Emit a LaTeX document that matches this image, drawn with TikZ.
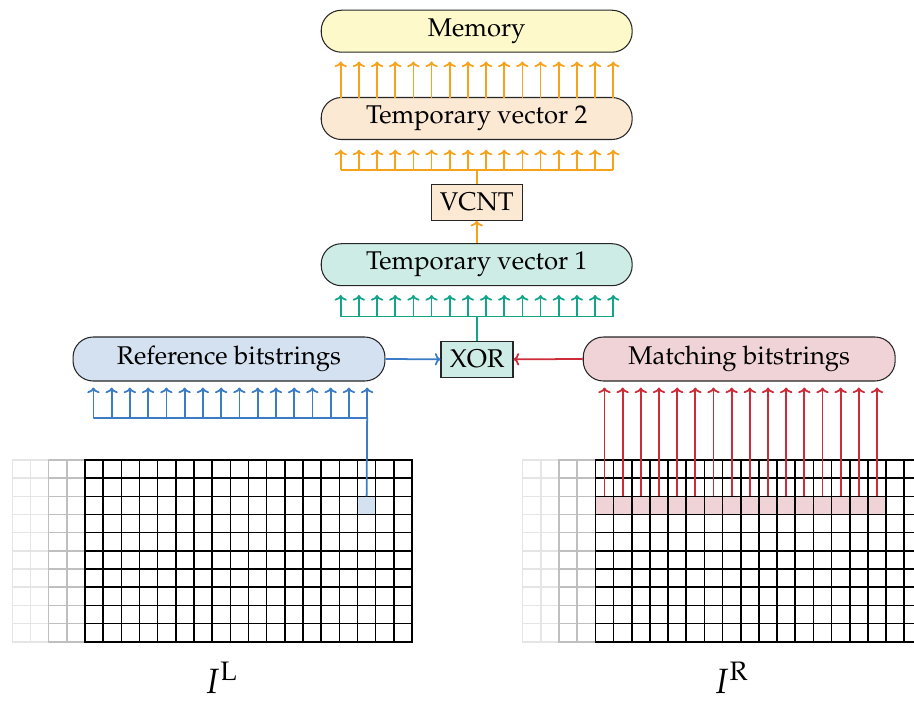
\documentclass[tikz,border=0pt]{standalone}
\usepackage[T1]{fontenc}
\usepackage{mathpazo}
\usetikzlibrary{arrows.meta}
\definecolor{cmem}{HTML}{FDF9CB}
\definecolor{ctvtwo}{HTML}{FBE9D4}
\definecolor{ctvone}{HTML}{CDECE5}
\definecolor{cref}{HTML}{D4E1F0}
\definecolor{cmat}{HTML}{F0D3D6}
\definecolor{corange}{HTML}{F7A21B}
\definecolor{cteal}{HTML}{12A58A}
\definecolor{cblue}{HTML}{3A7DC6}
\definecolor{cred}{HTML}{CC2B38}
\begin{document}
\begin{tikzpicture}[x=0.02cm,y=-0.02cm,
  boxfont/.style={font=\fontsize{14.6}{17}\selectfont},
  pill/.style={draw=black!85, line width=0.6pt, rounded corners=11.5pt,
    minimum width=6.22cm, minimum height=0.84cm, inner sep=0pt, boxfont},
  opbox/.style={draw=black!85, line width=0.6pt, minimum height=0.72cm,
    inner sep=0pt, boxfont},
  wire/.style={line width=1pt},
  arr/.style={wire, -{To[length=3.2pt,width=7pt]}},
  lbl/.style={font=\fontsize{20}{24}\selectfont, inner sep=0pt},
  faintA/.style={draw=black!10, line width=0.9pt},
  faintB/.style={draw=black!25, line width=0.9pt},
  cellline/.style={draw=black, line width=0.9pt}]
\useasboundingbox (0,0) rectangle (914,701);

% ---------- grids ----------
\begin{scope}
\clip (0,0) rectangle (914,701);
% highlights
\fill[cref] ({12.3+19*18.17},{460+2*18.17}) rectangle +(18.17,18.17);
\fill[cmat] ({522.7+4*18.17},{460+2*18.17}) rectangle +({16*18.17},18.17);
\foreach \ox in {12.3,522.7}{
  \foreach \c in {0,1}{\foreach \r in {0,...,9}{
    \draw[faintA] ({\ox+\c*18.17},{460+\r*18.17}) rectangle +(18.17,18.17);}}
  \foreach \c in {2,3}{\foreach \r in {0,...,9}{
    \draw[faintB] ({\ox+\c*18.17},{460+\r*18.17}) rectangle +(18.17,18.17);}}
  \foreach \c in {4,...,21}{\foreach \r in {0,...,9}{
    \draw[cellline] ({\ox+\c*18.17},{460+\r*18.17}) rectangle +(18.17,18.17);}}
}
\end{scope}

% ---------- boxes ----------
\node[pill, fill=cmem] (mem) at (476.7,31.2) {Memory};
\node[pill, fill=ctvtwo] (tvtwo) at (476.7,118.5) {Temporary vector 2};
\node[opbox, fill=ctvtwo, minimum width=1.82cm] (vcnt) at (476.7,202.2) {VCNT};
\node[pill, fill=ctvone] (tvone) at (476.7,264.7) {Temporary vector 1};
\node[opbox, fill=ctvone, minimum width=1.44cm] (xor) at (477,359.3) {XOR};
\node[pill, fill=cref, minimum width=6.24cm, minimum height=0.88cm] (ref) at (229,359) {Reference bitstrings};
\node[pill, fill=cmat, minimum width=6.24cm, minimum height=0.88cm] (mat) at (739.2,359) {Matching bitstrings};

% ---------- orange: TV2 -> Memory ----------
\foreach \i in {0,...,15}{
  \coordinate (oa\i) at ({340.7+18.17*\i},97.5);
  \draw[arr, corange, shorten >=5pt] (oa\i) -- (oa\i |- mem.south);
}
% ---------- orange bus: VCNT -> TV2 ----------
\foreach \i in {0,...,15}{
  \coordinate (ob\i) at ({340.7+18.17*\i},170);
  \draw[arr, corange, shorten >=5.5pt] (ob\i) -- (ob\i |- tvtwo.south);
}
\draw[wire, corange] (ob0) -- (ob15);
\draw[wire, corange] (vcnt.north) -- (vcnt.north |- ob0);
\draw[arr, corange] (tvone.north) -- (vcnt.south);

% ---------- teal bus: XOR -> TV1 ----------
\foreach \i in {0,...,15}{
  \coordinate (tb\i) at ({340.7+18.17*\i},316.5);
  \draw[arr, cteal, shorten >=5pt] (tb\i) -- (tb\i |- tvone.south);
}
\draw[wire, cteal] (tb0) -- (tb15);
\draw[wire, cteal] (xor.north) -- (xor.north |- tb0);

% ---------- inputs to XOR ----------
\draw[arr, cblue] (ref.east) -- (xor.west);
\draw[arr, cred] (mat.west) -- (xor.east);

% ---------- blue: reference cell ----------
\coordinate (lc) at ({12.3+19.5*18.17},{460+2*18.17});
\foreach \i in {0,...,15}{
  \coordinate (bb\i) at ({93.4+18.25*\i},418);
  \draw[arr, cblue, shorten >=3.4pt] (bb\i) -- (bb\i |- ref.south);
}
\draw[wire, cblue] (bb0) -- (bb15) -- (lc);

% ---------- red: matching row ----------
\foreach \i in {0,...,15}{
  \coordinate (rc\i) at ({522.7+(4.5+\i)*18.17},{460+2*18.17});
  \draw[arr, cred, shorten >=3.4pt] (rc\i) -- (rc\i |- mat.south);
}

% ---------- labels ----------
\node[lbl] (il) at (221,678) {$I^{\mathrm{L}}$};
\node[lbl] (ir) at (731,678) {$I^{\mathrm{R}}$};
\end{tikzpicture}
\end{document}
